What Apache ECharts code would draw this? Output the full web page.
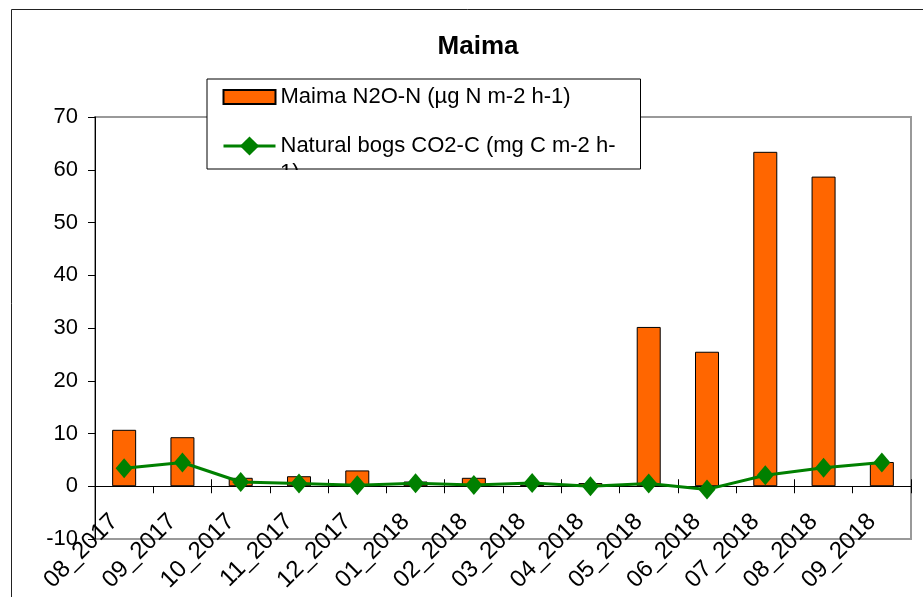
<!DOCTYPE html>
<html>
<head>
<meta charset="utf-8">
<script src="https://cdn.jsdelivr.net/npm/echarts@6/dist/echarts.min.js"></script>
<style>html,body{margin:0;padding:0;background:#fff}#c{width:923px;height:597px}</style>
</head>
<body>
<div id="c"></div>
<script>
const categories = ['08_2017','09_2017','10_2017','11_2017','12_2017','01_2018','02_2018','03_2018','04_2018','05_2018','06_2018','07_2018','08_2018','09_2018'];
const n2oValues = [10.7, 9.3, 1.6, 1.9, 3.0, 0.9, 1.6, 0.3, 0.6, 30.2, 25.5, 63.4, 58.7, 4.6];
const co2Values = [3.4, 4.5, 0.8, 0.5, 0.2, 0.55, 0.25, 0.6, 0.0, 0.5, -0.6, 2.1, 3.5, 4.5];
const yTicks = {min: -10, max: 70, interval: 10};
const seriesNames = ['Maima N2O-N (µg N m-2 h-1)', 'Natural bogs CO2-C (mg C m-2 h-1)'];

const FONT = "'Liberation Sans', Arial, sans-serif";
const chart = echarts.init(document.getElementById('c'));
const gridPos = {left: 95, right: 12, top: 117, bottom: 58, outerBoundsMode: 'none', containLabel: false};
chart.setOption({
  animation: false,
  backgroundColor: '#fff',
  title: {
    text: 'Maima', left: 473, top: 29, textAlign: 'center',
    textStyle: {fontFamily: FONT, fontSize: 26, fontWeight: 'bold', color: '#000'}
  },
  legend: {
    orient: 'vertical', left: 207, top: 79,
    padding: [6, 20, 11, 15], itemGap: 25,
    itemWidth: 52, itemHeight: 24,
    backgroundColor: '#fff', borderColor: '#000', borderWidth: 1,
    data: [{name: seriesNames[0], icon: 'path://M0,0H52V14H0Z'}, {name: seriesNames[1]}],
    lineStyle: {width: 3},
    formatter: function (name) { return name === seriesNames[1] ? 'Natural bogs CO2-C (mg C m-2 h-' : name; },
    textStyle: {fontFamily: FONT, fontSize: 22, color: '#000', lineHeight: 24, width: 340}
  },
  grid: [
    Object.assign({show: true, borderColor: '#999', borderWidth: 2, backgroundColor: 'transparent'}, gridPos),
    Object.assign({show: false}, gridPos)
  ],
  xAxis: [{
    type: 'category', data: categories, gridIndex: 0,
    axisLine: {onZero: true, lineStyle: {color: '#000', width: 1}},
    axisTick: {show: true, inside: false, length: 7, lineStyle: {color: '#000'}},
    axisLabel: {interval: 0, rotate: 45, margin: -31, padding: [0, 14, 0, 0], fontFamily: FONT, fontSize: 24, color: '#000'},
    splitLine: {show: false}
  }, {
    type: 'category', data: categories, gridIndex: 1,
    axisLine: {show: false, onZero: true},
    axisTick: {show: true, inside: true, length: 7, lineStyle: {color: '#000'}},
    axisLabel: {show: false},
    splitLine: {show: false}
  }],
  yAxis: [{
    type: 'value', gridIndex: 0, min: yTicks.min, max: yTicks.max, interval: yTicks.interval,
    axisLine: {show: true, lineStyle: {color: '#000'}},
    axisTick: {show: true, inside: false, length: 7, lineStyle: {color: '#000'}},
    axisLabel: {margin: 17, fontFamily: FONT, fontSize: 22, color: '#000'},
    splitLine: {show: false}
  }, {
    type: 'value', gridIndex: 1, min: yTicks.min, max: yTicks.max, interval: yTicks.interval,
    axisLine: {show: false}, axisTick: {show: false}, axisLabel: {show: false}, splitLine: {show: false}
  }],
  series: [{
    name: seriesNames[0], type: 'bar', data: n2oValues,
    xAxisIndex: 0, yAxisIndex: 0, barWidth: 24,
    itemStyle: {color: '#FF6600', borderColor: '#000', borderWidth: 1}
  }, {
    name: seriesNames[1], type: 'line', data: co2Values,
    xAxisIndex: 0, yAxisIndex: 0, z: 5,
    symbol: 'diamond', symbolSize: [17, 20],
    lineStyle: {color: '#008000', width: 3},
    itemStyle: {color: '#008000'}
  }],
  graphic: [
    {type: 'rect', left: 9, top: 7, shape: {width: 1000, height: 700}, style: {fill: 'none', stroke: '#222', lineWidth: 1}, z: 0, silent: true},
    {type: 'text', x: 280, y: 173, style: {text: '1)', font: "22px 'Liberation Sans', Arial, sans-serif", fill: '#000', textVerticalAlign: 'middle'}, z: 100},
    {type: 'rect', x: 200, y: 170, shape: {width: 445, height: 14}, style: {fill: '#fff'}, z: 101}
  ]
});
</script>
</body>
</html>
